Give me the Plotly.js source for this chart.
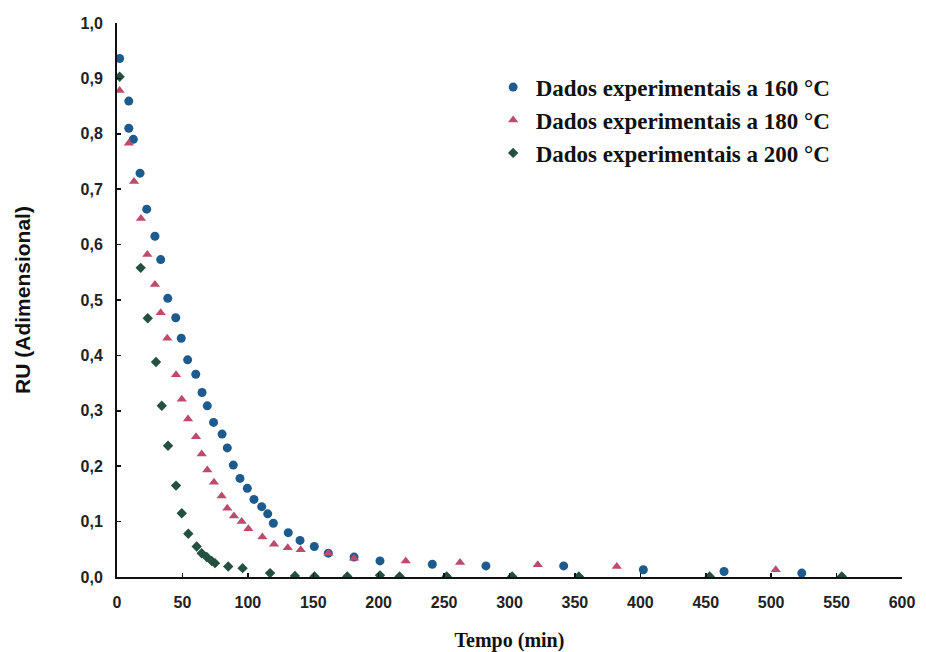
<!DOCTYPE html>
<html>
<head>
<meta charset="utf-8">
<script src="https://cdn.plot.ly/plotly-3.0.1.min.js"></script>
<style>
html,body{margin:0;padding:0;background:#fff;}
#chart{width:926px;height:652px;}
</style>
</head>
<body>
<div id="chart"></div>
<script>
// 160 °C
var t160 = [2, 9, 9, 12.5, 17.6, 22.7, 29, 33.4, 38.8, 44.9, 49.1, 54, 60.2, 65, 69, 73.8, 80.3, 84.3, 88.9, 94, 99.6, 104.7, 110.6, 115.2, 119.5, 130.9, 139.9, 150.8, 161.5, 181.2, 201, 241, 282, 341.4, 402.3, 464, 523.4];
var ru160 = [0.936, 0.859, 0.81, 0.79, 0.729, 0.664, 0.615, 0.573, 0.503, 0.468, 0.431, 0.392, 0.366, 0.333, 0.309, 0.279, 0.258, 0.233, 0.202, 0.178, 0.16, 0.14, 0.127, 0.114, 0.097, 0.08, 0.066, 0.055, 0.043, 0.036, 0.029, 0.023, 0.02, 0.02, 0.013, 0.01, 0.007];
// 180 °C
var t180 = [2, 9, 13, 18.3, 23.2, 29, 33.4, 38.4, 45.1, 49.5, 54.3, 60.4, 64.7, 69, 74.1, 80, 84.3, 89.4, 95.3, 100.4, 111.1, 120, 130.5, 140.4, 161.5, 181.2, 220.7, 262.2, 321.6, 382, 503.5];
var ru180 = [0.878, 0.783, 0.714, 0.647, 0.582, 0.528, 0.477, 0.431, 0.365, 0.321, 0.285, 0.253, 0.222, 0.193, 0.171, 0.146, 0.124, 0.11, 0.1, 0.087, 0.072, 0.059, 0.053, 0.049, 0.043, 0.034, 0.029, 0.026, 0.022, 0.019, 0.013];
// 200 °C
var t200 = [2, 18.1, 23.5, 29.8, 34.2, 39, 45.1, 49.5, 54.5, 60.9, 64.7, 68.6, 72.4, 74.9, 85, 96, 117, 136, 151, 176, 201, 216, 252, 302, 353, 453, 554];
var ru200 = [0.903, 0.558, 0.467, 0.388, 0.309, 0.237, 0.165, 0.115, 0.078, 0.055, 0.043, 0.036, 0.029, 0.025, 0.019, 0.016, 0.007, 0.002, 0.001, 0.001, 0.003, 0.001, 0.001, 0.001, 0.001, 0.001, 0.001];

var names = ['Dados experimentais a 160 °C', 'Dados experimentais a 180 °C', 'Dados experimentais a 200 °C'];
var colors = ['#1d5a8e', '#bd4c6c', '#24503f'];
var symbols = ['circle', 'triangle-up', 'diamond'];
var sizes = [9, 9, 8];

var xs = [t160, t180, t200];
var ys = [ru160, ru180, ru200];

var traces = xs.map(function (x, i) {
  return {
    type: 'scatter', mode: 'markers', x: x, y: ys[i], name: names[i],
    legendgroup: 'g' + i,
    marker: {symbol: symbols[i], size: sizes[i], color: colors[i]}
  };
});

var layout = {
  width: 926, height: 652,
  paper_bgcolor: '#ffffff', plot_bgcolor: '#ffffff',
  separators: ', ',
  margin: {l: 117, r: 24, t: 23, b: 75},
  showlegend: true,
  legend: {
    x: 0.476, y: 0.923, xanchor: 'left', yanchor: 'top',
    bgcolor: 'rgba(0,0,0,0)', traceorder: 'grouped', tracegroupgap: 0,
    itemwidth: 35,
    font: {family: 'Liberation Serif, Times New Roman, serif', size: 23, color: '#111', weight: 'bold'}
  },
  xaxis: {
    range: [0, 600], dtick: 50, tick0: 0,
    showgrid: false, zeroline: false,
    showline: true, linecolor: '#111', linewidth: 2,
    ticks: 'inside', ticklen: 4, tickcolor: '#111', tickwidth: 1.5,
    ticklabelstandoff: 10,
    tickfont: {family: 'Liberation Sans Narrow, Liberation Sans, Arial, sans-serif', size: 16, color: '#222', weight: 'bold'},
    title: {text: 'Tempo (min)', standoff: 33,
      font: {family: 'Liberation Serif, Times New Roman, serif', size: 20, color: '#111', weight: 'bold'}}
  },
  yaxis: {
    range: [0, 1.0], dtick: 0.1, tick0: 0, tickformat: '.1f',
    showgrid: false, zeroline: false,
    showline: true, linecolor: '#111', linewidth: 2,
    ticks: 'inside', ticklen: 4, tickcolor: '#111', tickwidth: 1.5,
    ticklabelstandoff: 9,
    tickfont: {family: 'Liberation Sans, Arial, sans-serif', size: 16, color: '#222', weight: 'bold'},
    title: {text: 'RU (Adimensional)', standoff: 44,
      font: {family: 'Liberation Sans, Arial, sans-serif', size: 21, color: '#111', weight: 'bold'}}
  }
};

Plotly.newPlot('chart', traces, layout, {displayModeBar: false, staticPlot: true});
</script>
</body>
</html>
